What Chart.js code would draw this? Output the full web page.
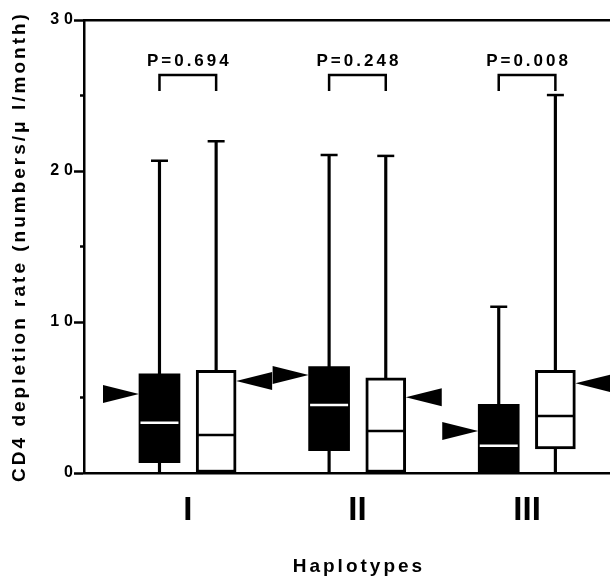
<!DOCTYPE html>
<html>
<head>
<meta charset="utf-8">
<script src="https://cdn.jsdelivr.net/npm/chart.js@4.4.1/dist/chart.umd.min.js"></script>
<style>
    html, body { margin: 0; padding: 0; background: #fff; }
</style>
</head>
<body>
<canvas id="cd4Chart" width="610" height="577"></canvas>
<script>
const haplotypes = ['I', 'II', 'III'];
const pLabels = ['P=0.694', 'P=0.248', 'P=0.008'];

// filled (black) boxes
const filledLow = [0, 0, 0];
const filledQ1 = [0.68, 1.48, 0];
const filledMedian = [3.33, 4.5, 1.81];
const filledQ3 = [6.56, 7.04, 4.55];
const filledHigh = [20.68, 21.06, 11.01];
const filledMean = [5.23, 6.49, 2.78];

// open (white) boxes
const openLow = [0, 0, 0];
const openQ1 = [0, 0, 1.59];
const openMedian = [2.52, 2.78, 3.77];
const openQ3 = [6.8, 6.31, 6.8];
const openHigh = [21.97, 21.0, 25.03];
const openMean = [6.09, 5.01, 5.94];

const FONT = '"Liberation Sans", Arial, sans-serif';
const X_MIN = 0.388;
const X_MAX = 3.489;
const SIDE = 0.167;          // offset of each box from the group centre
const BRACKET_TOP = 26.36;   // value of the bracket bar
const BRACKET_LEG = 25.3;    // where the bracket legs stop
const P_BASE = 26.95;        // baseline of the P labels

const ctx = document.getElementById('cd4Chart').getContext('2d');

function ranges(lo, hi, side) {
    return lo.map((v, i) => ({ x: i + 1 + side, y: [v, hi[i]] }));
}
function points(values, side) {
    return values.map((v, i) => ({ x: i + 1 + side, y: v }));
}

function whisker(data) {
    return {
        type: 'bar', data: data, backgroundColor: '#000', borderWidth: 0,
        barThickness: 2.5, grouped: false, order: 5
    };
}

function noSidePadding(s) {
    s.paddingLeft = 0;
    s.paddingRight = 0;
}

// letter spacing for axis texts (canvas letterSpacing)
const textSpacing = {
    y: { labels: '5px', title: '3px' },
    x: { labels: '0px', title: '0px' }
};
const spacedText = {
    id: 'spacedText',
    beforeDraw(chart) {
        Object.keys(textSpacing).forEach(id => {
            const scale = chart.scales[id];
            if (!scale || scale._spaced) return;
            scale._spaced = true;
            const sp = textSpacing[id];
            const drawLabels = scale.drawLabels.bind(scale);
            const drawTitle = scale.drawTitle.bind(scale);
            scale.drawLabels = area => {
                chart.ctx.letterSpacing = sp.labels;
                drawLabels(area);
                chart.ctx.letterSpacing = '0px';
            };
            scale.drawTitle = () => {
                chart.ctx.letterSpacing = sp.title;
                drawTitle();
                chart.ctx.letterSpacing = '0px';
            };
        });
    }
};

// centred spaced text
function spacedFill(c, text, cx, baseY, spacing) {
    c.letterSpacing = spacing + 'px';
    c.textAlign = 'left';
    c.textBaseline = 'alphabetic';
    const w = c.measureText(text).width - spacing;
    c.fillText(text, cx - w / 2, baseY);
    c.letterSpacing = '0px';
}

// mean arrows, P brackets, minor ticks and the x title
const boxMarks = {
    id: 'boxMarks',
    afterDatasetsDraw(chart) {
        const c = chart.ctx;
        const x = chart.scales.x;
        const y = chart.scales.y;
        const filledBars = chart.getDatasetMeta(4).data;
        const openBars = chart.getDatasetMeta(5).data;

        function arrow(tipX, tipY, dir) {
            c.beginPath();
            c.moveTo(tipX, tipY);
            c.lineTo(tipX + dir * 36, tipY - 9);
            c.lineTo(tipX + dir * 36, tipY + 9);
            c.closePath();
            c.fill();
        }

        c.save();
        c.fillStyle = '#000';
        c.strokeStyle = '#000';
        c.lineWidth = 2.5;
        haplotypes.forEach((h, i) => {
            const fb = filledBars[i];
            const ob = openBars[i];
            arrow(fb.x - fb.width / 2, y.getPixelForValue(filledMean[i]), -1);
            arrow(ob.x + ob.width / 2, y.getPixelForValue(openMean[i]), 1);

            const top = y.getPixelForValue(BRACKET_TOP);
            const leg = y.getPixelForValue(BRACKET_LEG);
            c.beginPath();
            c.moveTo(fb.x, leg);
            c.lineTo(fb.x, top);
            c.lineTo(ob.x, top);
            c.lineTo(ob.x, leg);
            c.stroke();

            c.font = 'bold 17px ' + FONT;
            spacedFill(c, pLabels[i], (fb.x + ob.x) / 2, y.getPixelForValue(P_BASE), 3);
        });
        // minor ticks
        [5, 15, 25].forEach(v => {
            const py = y.getPixelForValue(v);
            c.beginPath();
            c.moveTo(y.right - 4, py);
            c.lineTo(y.right, py);
            c.stroke();
        });
        // x title, centred under the middle haplotype
        c.font = 'bold 19px ' + FONT;
        spacedFill(c, 'Haplotypes', x.getPixelForValue(2), x.bottom - 5, 3);
        c.restore();
    }
};

new Chart(ctx, {
    data: {
        datasets: [
            whisker(ranges(filledQ3, filledHigh, -SIDE)),
            whisker(ranges(filledLow, filledQ1, -SIDE)),
            whisker(ranges(openQ3, openHigh, SIDE)),
            whisker(ranges(openLow, openQ1, SIDE)),
            {
                type: 'bar', label: 'filled', data: ranges(filledQ1, filledQ3, -SIDE),
                backgroundColor: '#000', borderWidth: 0, barThickness: 41, grouped: false, order: 3
            },
            {
                type: 'bar', label: 'open', data: ranges(openQ1, openQ3, SIDE),
                backgroundColor: '#fff', borderColor: '#000', borderWidth: 3, borderSkipped: false,
                barThickness: 40, grouped: false, order: 3
            },
            {
                type: 'scatter', data: points(filledMedian, -SIDE), pointStyle: 'line',
                pointRadius: 19, pointBorderColor: '#fff', pointBorderWidth: 2.5, order: 2
            },
            {
                type: 'scatter', data: points(openMedian, SIDE), pointStyle: 'line',
                pointRadius: 18, pointBorderColor: '#000', pointBorderWidth: 2.5, order: 2
            },
            {
                type: 'scatter', data: points(filledHigh, -SIDE).concat(points(openHigh, SIDE)),
                pointStyle: 'line', pointRadius: 8.5, pointBorderColor: '#000', pointBorderWidth: 2.5, order: 1
            }
        ]
    },
    options: {
        responsive: false,
        animation: false,
        events: [],
        layout: { autoPadding: false, padding: { top: 20, right: 0, left: 0, bottom: 0 } },
        plugins: {
            legend: { display: false },
            tooltip: { enabled: false }
        },
        scales: {
            x: {
                type: 'linear', min: X_MIN, max: X_MAX, offset: false,
                afterBuildTicks: s => { s.ticks = haplotypes.map((h, i) => ({ value: i + 1 })); },
                afterFit: s => { s.height = 104; noSidePadding(s); },
                ticks: {
                    callback: v => haplotypes[Math.round(v) - 1],
                    color: '#000', padding: 18, maxRotation: 0, autoSkip: false,
                    font: { family: FONT, size: 33, weight: 'bold' }
                },
                grid: { display: false, drawTicks: false },
                border: { display: true, color: '#000', width: 2.5 }
            },
            xTop: {
                type: 'linear', position: 'top', min: X_MIN, max: X_MAX,
                afterFit: s => { s.height = 0; noSidePadding(s); },
                ticks: { display: false },
                grid: { display: false, drawTicks: false },
                border: { display: true, color: '#000', width: 2.5 }
            },
            y: {
                min: 0, max: 30,
                afterFit: s => { s.width = 84; },
                ticks: {
                    stepSize: 10, color: '#000', padding: -4,
                    font: { family: FONT, size: 16, weight: 'bold' }
                },
                grid: { drawOnChartArea: false, drawTicks: true, tickLength: 10, tickWidth: 2.5, color: '#000' },
                border: { color: '#000', width: 2.5 },
                title: {
                    display: true, text: 'CD4 depletion rate (numbers/μ l/month)', color: '#000',
                    padding: { top: 8, bottom: 0 },
                    font: { family: FONT, size: 19, weight: 'bold' }
                }
            }
        }
    },
    plugins: [spacedText, boxMarks]
});
</script>
</body>
</html>
